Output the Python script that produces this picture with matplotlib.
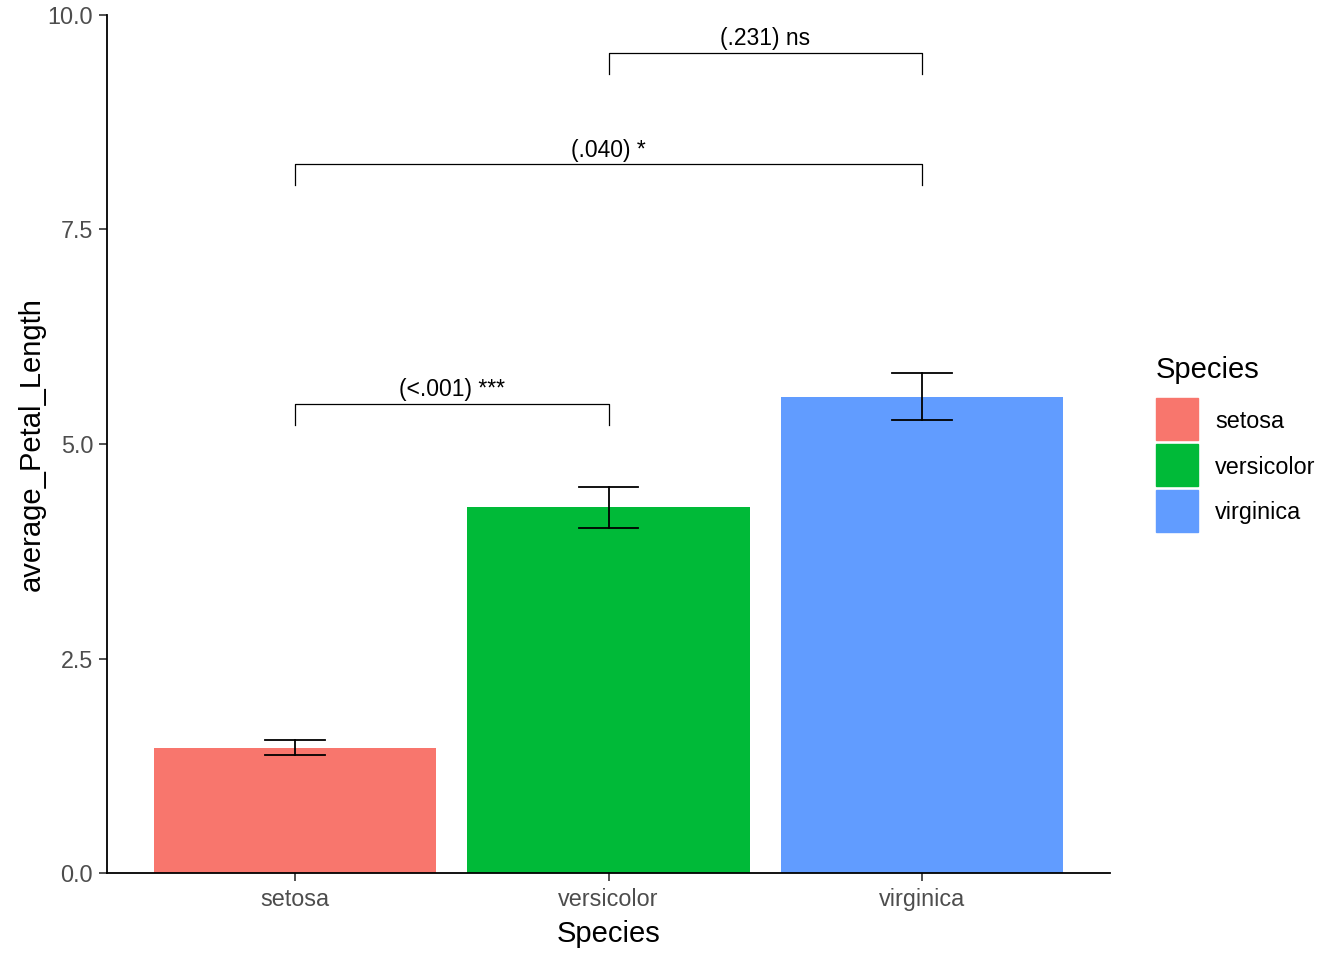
import matplotlib.pyplot as plt
from matplotlib.patches import Rectangle

plt.rcParams['font.family'] = ['Liberation Sans', 'DejaVu Sans']

species = ['setosa', 'versicolor', 'virginica']
means = [1.462, 4.26, 5.552]
err_low = [1.375, 4.02, 5.28]
err_high = [1.55, 4.50, 5.83]
colors = ['#F8766D', '#00BA38', '#619CFF']

# significance brackets: (left idx, right idx, y, label)
brackets = [(0, 1, 5.47, '(<.001) ***'),
            (0, 2, 8.26, '(.040) *'),
            (1, 2, 9.56, '(.231) ns')]
tick_drop = 0.245

fig = plt.figure(figsize=(13.44, 9.6), dpi=100)
ax = fig.add_axes([107/1344, 1 - 873/960, (1110 - 107)/1344, (873 - 15)/960])

x = [1, 2, 3]
ax.bar(x, means, width=0.9, color=colors, zorder=2)
for xi, lo, hi in zip(x, err_low, err_high):
    ax.plot([xi, xi], [lo, hi], color='black', lw=1.3, zorder=3)
    ax.plot([xi - 0.095, xi + 0.095], [lo, lo], color='black', lw=1.3, zorder=3)
    ax.plot([xi - 0.095, xi + 0.095], [hi, hi], color='black', lw=1.3, zorder=3)

for a, b, y, lab in brackets:
    xa, xb = x[a], x[b]
    ax.plot([xa, xa, xb, xb], [y - tick_drop, y, y, y - tick_drop],
            color='black', lw=0.9, zorder=3)
    ax.text((xa + xb) / 2, y + 0.03, lab, ha='center', va='bottom',
            fontsize=16.5, color='black')

ax.set_xlim(0.4, 3.6)
ax.set_ylim(0, 10)
ax.set_xticks(x)
ax.set_xticklabels(species)
ax.set_yticks([0, 2.5, 5.0, 7.5, 10.0])
ax.set_yticklabels(['0.0', '2.5', '5.0', '7.5', '10.0'])
ax.tick_params(labelsize=16.8, labelcolor='#4D4D4D', color='#333333', length=6, width=1.2)
ax.tick_params(axis='x', pad=5)
ax.tick_params(axis='y', pad=4)
for s in ['top', 'right']:
    ax.spines[s].set_visible(False)
for s in ['left', 'bottom']:
    ax.spines[s].set_linewidth(1.3)
ax.set_xlabel('Species', fontsize=21, labelpad=6)
ax.set_ylabel('average_Petal_Length', fontsize=21, labelpad=1)

# legend
fig.text(1156/1344, 1 - 370/960, 'Species', fontsize=21, va='center', ha='left')
for i, (sp, c) in enumerate(zip(species, colors)):
    top = 398 + i * 46
    fig.patches.append(Rectangle((1156/1344, 1 - (top + 42)/960), 42/1344, 42/960,
                                 transform=fig.transFigure, color=c))
    fig.text(1215/1344, 1 - (top + 23)/960, sp, fontsize=16.8, va='center', ha='left')

fig.savefig('out.png', dpi=100)
